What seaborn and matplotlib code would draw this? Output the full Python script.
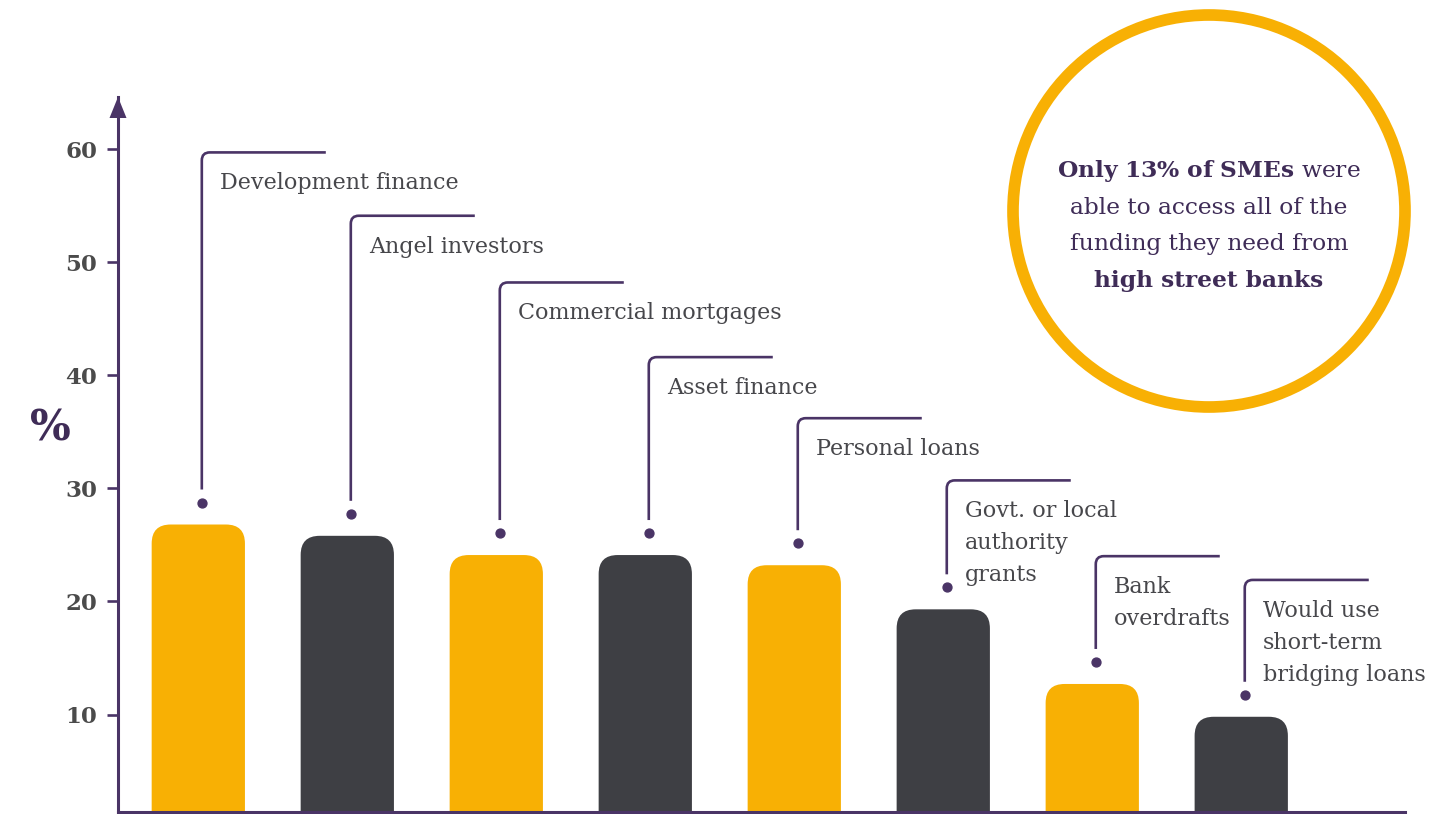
import matplotlib
matplotlib.use("Agg")
import matplotlib.pyplot as plt
import seaborn as sns
from matplotlib.patches import FancyBboxPatch, Ellipse, Polygon, PathPatch
from matplotlib.path import Path

# ---- data -------------------------------------------------------------
categories = [
    "Development finance",
    "Angel investors",
    "Commercial mortgages",
    "Asset finance",
    "Personal loans",
    "Govt. or local\nauthority\ngrants",
    "Bank\noverdrafts",
    "Would use\nshort-term\nbridging loans",
]
shares = [26.8, 25.8, 24.1, 24.1, 23.2, 19.3, 12.7, 9.8]
y_ticks = [10, 20, 30, 40, 50, 60]

# height (in % units) at which each call-out line turns right
callout_top = [59.7, 54.1, 48.2, 41.6, 36.2, 30.7, 24.0, 21.9]

# ---- style ------------------------------------------------------------
YELLOW = "#F8B004"
DARK = "#3E3F44"
PURPLE = "#4A3466"
INK = "#3F2C57"
TEXT = "#47474B"
TICK = "#4B4B4B"
bar_colors = [YELLOW, DARK] * 4

sns.set_theme(style="white")
plt.rcParams["font.family"] = ["DejaVu Serif"]
plt.rcParams["mathtext.fontset"] = "custom"
plt.rcParams["mathtext.rm"] = "DejaVu Serif"
plt.rcParams["mathtext.bf"] = "DejaVu Serif:bold"

W, H = 1452, 814
fig = plt.figure(figsize=(W / 100, H / 100), dpi=100, facecolor="white")

# axes box in pixels
AX_L, AX_R, AX_B, AX_T = 118, 1405, 812, 97
ax = fig.add_axes([AX_L / W, (H - AX_B) / H, (AX_R - AX_L) / W, (AX_B - AX_T) / H])
XLIM = (-0.539, 8.099)
YLIM = (1.38, 64.6)
PX_X = (AX_R - AX_L) / (XLIM[1] - XLIM[0])   # pixels per category step
PX_Y = (AX_B - AX_T) / (YLIM[1] - YLIM[0])   # pixels per percentage point

sns.barplot(x=categories, y=shares, hue=categories, palette=bar_colors,
            width=0.626, saturation=1, errorbar=None, legend=False, ax=ax)

# swap the square bars for ones with rounded tops
radius_px = 19
for p in list(ax.patches):
    x0, w, h, fc = p.get_x(), p.get_width(), p.get_height(), p.get_facecolor()
    p.remove()
    ax.add_patch(FancyBboxPatch(
        (x0, -3), w, h + 3,
        boxstyle=f"round,pad=0,rounding_size={radius_px / PX_X}",
        mutation_aspect=PX_X / PX_Y, fc=fc, ec="none", zorder=2))

ax.set_xlim(*XLIM)
ax.set_ylim(*YLIM)

# call-out leaders, dots and labels
dx = 3.5 / PX_X
corner = 8
for i, (lab, v, top) in enumerate(zip(categories, shares, callout_top)):
    xl = i + dx
    dot_y = v + 22 / PX_Y
    start = dot_y + 13 / PX_Y
    verts = [(xl, start), (xl, top - corner / PX_Y), (xl, top),
             (xl + corner / PX_X, top), (xl + 124 / PX_X, top)]
    codes = [Path.MOVETO, Path.LINETO, Path.CURVE3, Path.CURVE3, Path.LINETO]
    ax.add_patch(PathPatch(Path(verts, codes), fc="none", ec=PURPLE,
                           lw=1.9, capstyle="butt", zorder=3, clip_on=False))
    ax.plot([xl], [dot_y], "o", ms=6.4, color=PURPLE, zorder=3, clip_on=False)
    for j, line in enumerate(lab.split("\n")):
        ax.text(xl + 18 / PX_X, top - (37 + 32 * j) / PX_Y, line,
                ha="left", va="baseline", fontsize=16, color=TEXT)

# axes styling
sns.despine(ax=ax)
for side in ("left", "bottom"):
    ax.spines[side].set_color(PURPLE)
    ax.spines[side].set_linewidth(2.2)
ax.set_xticks([])
ax.set_xlabel("")
ax.set_ylabel("")
ax.set_yticks(y_ticks)
ax.tick_params(axis="y", left=True, direction="out", length=8, width=1.9,
               color=PURPLE, pad=7, labelsize=16.5, labelcolor=TICK)
for t in ax.get_yticklabels():
    t.set_fontweight("bold")
ax.patch.set_visible(False)

# arrow head on the value axis
ax.add_patch(Polygon(
    [(XLIM[0] - 8.5 / PX_X, YLIM[1] - 21 / PX_Y),
     (XLIM[0] + 8.5 / PX_X, YLIM[1] - 21 / PX_Y),
     (XLIM[0], YLIM[1])],
    closed=True, fc=PURPLE, ec="none", clip_on=False, zorder=4))

fig.text(50 / W, 1 - 429 / H, "%", fontsize=31, fontweight="bold",
         color=INK, ha="center", va="center")

# highlighted statement in a ring
CX, CY, R = 1209, 211, 196
fig.add_artist(Ellipse((CX / W, 1 - CY / H), 2 * R / W, 2 * R / H,
                       transform=fig.transFigure, fill=False,
                       ec=YELLOW, lw=8.4))
note_lines = [
    (r"$\mathbf{Only\ 13\%\ of\ SMEs}$ were", "normal"),
    ("able to access all of the", "normal"),
    ("funding they need from", "normal"),
    ("high street banks", "bold"),
]
for k, (txt, wt) in enumerate(note_lines):
    fig.text(CX / W, 1 - (177 + 36.7 * k) / H, txt, ha="center",
             va="baseline", fontsize=16.8, fontweight=wt, color=INK)

fig.savefig("out.png", dpi=100, facecolor="white")
